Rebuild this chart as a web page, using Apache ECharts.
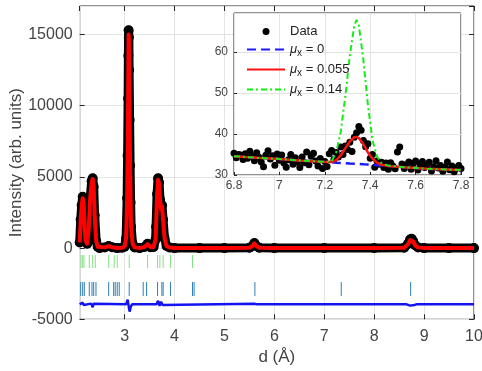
<!DOCTYPE html>
<html><head><meta charset="utf-8">
<script src="https://cdn.jsdelivr.net/npm/echarts@6/dist/echarts.min.js"></script>
<style>html,body{margin:0;padding:0;background:#fff}#c{width:482px;height:371px}</style>
</head><body><div id="c"></div>
<script>
// ---- main pattern ----
const mainD    = [2.10,2.12,2.14,2.16,2.18,2.20,2.22,2.25,2.28,2.31,2.34,2.36,2.38,2.40,2.43,2.46,2.50,2.60,2.68,2.75,2.85,2.95,3.00,3.03,3.05,3.06,3.07,3.075,3.08,3.085,3.09,3.10,3.11,3.12,3.13,3.16,3.20,3.30,3.40,3.46,3.52,3.58,3.62,3.63,3.65,3.67,3.69,3.71,3.73,3.75,3.77,3.80,3.84,3.90,4.00,4.50,5.00,5.50,5.56,5.60,5.64,5.70,6.00,7.00,8.00,8.60,8.68,8.72,8.75,8.78,8.82,8.88,9.00,9.50,10.00];
const mainObs  = [400,2000,3000,3600,3200,1400,500,300,1300,3500,4700,4900,4300,2300,500,100,0,50,150,60,0,30,100,700,3500,6500,10500,13500,15300,14800,12500,9000,5800,3200,1500,300,50,0,80,300,60,80,600,1500,3800,4900,4600,3400,2700,3000,2000,700,150,40,0,0,0,20,150,350,150,20,0,0,0,20,300,600,650,500,200,50,0,0,0];
const mainCalc = [400,2000,3000,3500,3150,1400,500,300,1300,3500,4650,4850,4250,2300,500,100,0,50,140,60,0,30,100,700,3400,6300,10300,13300,15000,14600,12300,8900,5700,3100,1500,300,50,0,80,280,60,80,600,1500,3700,4800,4550,3400,2700,2950,2000,700,150,40,0,0,0,20,140,330,140,20,0,0,0,20,280,560,620,480,200,50,0,0,0];
const resD = [2.10,2.14,2.16,2.18,2.22,2.33,2.36,2.38,2.42,3.03,3.06,3.08,3.10,3.12,3.15,3.64,3.67,3.70,3.73,3.76,3.80,5.60,5.65,8.65,8.72,8.80,8.85,10.00];
const resV = [-3950,-3900,-3830,-4000,-3950,-3900,-4150,-3900,-3950,-3950,-3620,-3530,-4460,-4150,-3950,-3950,-3700,-4060,-3760,-4000,-3950,-3910,-3950,-3950,-4040,-4000,-3950,-3950];
const phase1Ticks = [2.126,2.16,2.186,2.292,2.36,2.412,2.68,2.792,2.852,3.092,3.46,3.66,3.706,3.772,3.92,4.36];
const phase2Ticks = [2.12,2.16,2.192,2.292,2.346,2.38,2.426,2.68,2.78,2.812,2.852,2.892,3.092,3.372,3.44,3.66,3.746,3.772,3.92,4.36,4.392,5.61,7.34,8.73];
// ---- inset ----
const insetD = [6.80,6.81,6.82,6.83,6.84,6.85,6.86,6.87,6.88,6.89,6.90,6.91,6.92,6.93,6.94,6.95,6.96,6.97,6.98,6.99,7.00,7.01,7.02,7.03,7.04,7.05,7.06,7.07,7.08,7.09,7.10,7.11,7.12,7.13,7.14,7.15,7.16,7.17,7.18,7.19,7.20,7.21,7.22,7.23,7.24,7.25,7.26,7.27,7.28,7.29,7.30,7.31,7.32,7.33,7.34,7.35,7.36,7.37,7.38,7.39,7.40,7.41,7.42,7.43,7.44,7.45,7.46,7.47,7.48,7.49,7.50,7.51,7.52,7.53,7.54,7.55,7.56,7.57,7.58,7.59,7.60,7.61,7.62,7.63,7.64,7.65,7.66,7.67,7.68,7.69,7.70,7.71,7.72,7.73,7.74,7.75,7.76,7.77,7.78,7.79,7.80];
const insetObs = [35.3,34.2,35.0,34.9,33.8,35.2,34.1,35.8,34.6,33.5,35.4,34.3,33.2,32.0,34.8,35.9,33.9,34.7,32.4,35.1,33.6,34.9,32.9,31.9,33.7,35.0,32.6,34.2,33.1,31.8,34.4,33.0,35.6,32.5,34.6,35.3,33.4,32.2,34.0,31.6,33.3,32.1,35.2,36.0,33.8,35.5,34.4,36.8,35.0,37.1,36.2,38.0,35.7,39.2,40.3,41.8,40.9,38.4,36.9,37.6,34.1,35.0,31.9,33.4,32.6,33.1,31.8,32.9,31.4,33.0,32.2,31.5,35.6,36.8,32.7,31.6,32.5,33.2,31.4,32.8,33.4,31.2,32.6,33.3,31.8,32.4,33.1,31.0,32.0,33.5,31.7,32.3,30.9,31.9,33.2,31.3,32.2,30.8,31.7,32.3,31.6];
const fitD     = [6.80,6.90,7.00,7.10,7.20,7.23,7.25,7.27,7.29,7.31,7.33,7.34,7.35,7.37,7.39,7.41,7.43,7.45,7.48,7.55,7.65,7.80];
const fitMu0   = [34.6,34.2,33.9,33.5,33.2,33.1,33.0,32.95,32.9,32.8,32.75,32.7,32.7,32.6,32.55,32.5,32.4,32.3,32.2,31.9,31.5,31.2];
const fitMu055 = [34.6,34.2,33.9,33.5,33.2,33.2,33.6,34.8,36.5,38.2,39.2,39.3,39.0,37.5,35.5,34.0,33.0,32.5,32.2,31.9,31.5,31.2];
const fitMu14  = [34.6,34.2,33.9,33.5,33.2,33.4,35.5,40.5,49.0,59.0,66.5,67.8,66.5,58.0,47.0,38.5,34.5,32.9,32.3,31.9,31.5,31.2];

const zip = (a,b) => a.map((v,i)=>[v,b[i]]);
const FONT = '"Liberation Sans", Arial, sans-serif';
const TXT = '#444';
const AX = '#262626';
const GRIDC = '#e3e3e3';
const plain = v => String(+v.toFixed(4));

const chart = echarts.init(document.getElementById('c'), null, {renderer:'canvas'});
const legendNames = {'Data':'Data','mu0':'{i|μ}{s|x}{t| = 0}','mu055':'{i|μ}{s|x}{t| = 0.055}','mu14':'{i|μ}{s|x}{t| = 0.14}'};
chart.setOption({
  animation:false,
  textStyle:{fontFamily:FONT},
  grid:[
    {left:79.7, right:8, top:6, bottom:51.7, show:true, borderColor:AX, borderWidth:1, backgroundColor:'#fff', z:0, outerBoundsMode:'none'},
    {left:234, top:13, width:227, height:162, show:true, borderColor:AX, borderWidth:1, backgroundColor:'#fff', z:5, outerBoundsMode:'none'}
  ],
  xAxis:[
    {gridIndex:0, type:'value', min:2.1, max:10, splitNumber:8, name:'d (Å)', nameLocation:'middle', nameGap:29,
     nameTextStyle:{fontSize:17, color:TXT, fontFamily:FONT},
     axisLine:{show:false, onZero:false}, axisTick:{inside:true, length:5, lineStyle:{color:AX}},
     axisLabel:{fontSize:16, color:TXT, margin:9, showMinLabel:false, fontFamily:FONT, formatter:plain},
     splitLine:{show:true, lineStyle:{color:GRIDC, width:1}}},
    {gridIndex:1, type:'value', min:6.8, max:7.8, interval:0.2, z:6,
     axisLine:{show:false, onZero:false}, axisTick:{inside:true, length:3, lineStyle:{color:AX}},
     axisLabel:{fontSize:12, color:TXT, margin:5, fontFamily:FONT, formatter:plain},
     splitLine:{show:true, lineStyle:{color:GRIDC, width:1}}},
    {gridIndex:0, type:'value', position:'top', min:2.1, max:10, splitNumber:8,
     axisLine:{show:false, onZero:false}, axisTick:{inside:true, length:5, lineStyle:{color:AX}}, axisLabel:{show:false}, splitLine:{show:false}}
  ],
  yAxis:[
    {gridIndex:0, type:'value', min:-5000, max:17000, interval:5000, name:'Intensity (arb. units)', nameLocation:'middle', nameGap:55, nameMoveOverlap:false,
     nameTextStyle:{fontSize:17, color:TXT, fontFamily:FONT},
     axisLine:{show:false, onZero:false}, axisTick:{inside:true, length:5, lineStyle:{color:AX}},
     axisLabel:{fontSize:16, color:TXT, margin:7, showMaxLabel:false, fontFamily:FONT, formatter:plain},
     splitLine:{show:true, lineStyle:{color:GRIDC, width:1}}},
    {gridIndex:1, type:'value', min:30, max:69.5, interval:10, z:6,
     axisLine:{show:false, onZero:false}, axisTick:{inside:true, length:3, lineStyle:{color:AX}},
     axisLabel:{fontSize:12, color:TXT, margin:6, showMaxLabel:false, fontFamily:FONT, formatter:plain},
     splitLine:{show:true, lineStyle:{color:GRIDC, width:1}}},
    {gridIndex:0, type:'value', position:'right', min:-5000, max:17000, interval:5000,
     axisLine:{show:false, onZero:false}, axisTick:{inside:true, length:5, lineStyle:{color:AX}}, axisLabel:{show:false}, splitLine:{show:false}}
  ],
  legend:{
    data:[{name:'Data'},{name:'mu0', itemStyle:{opacity:0}},{name:'mu055', itemStyle:{opacity:0}},{name:'mu14', itemStyle:{opacity:0}}],
    orient:'vertical', left:246, top:25, z:20,
    itemWidth:38, itemHeight:7, itemGap:5, padding:0,
    formatter:n=>legendNames[n],
    textStyle:{fontSize:13, color:'#222', fontFamily:FONT,
      rich:{i:{fontSize:13, fontStyle:'italic', color:'#222', fontFamily:FONT},
            s:{fontSize:10, color:'#222', padding:[7,0,0,0], fontFamily:FONT},
            t:{fontSize:13, color:'#222', fontFamily:FONT}}}
  },
  series:[
    {type:'line', xAxisIndex:0, yAxisIndex:0, data:zip(mainD,mainObs), z:3,
     symbol:'circle', symbolSize:10, showSymbol:true, showAllSymbol:true,
     itemStyle:{color:'#000'}, lineStyle:{color:'#000', width:9, cap:'round', join:'round'}},
    {type:'line', xAxisIndex:0, yAxisIndex:0, data:zip(mainD,mainCalc), z:4, symbol:'none',
     lineStyle:{color:'#ff0000', width:4, join:'round'}},
    {type:'scatter', xAxisIndex:0, yAxisIndex:0, data:phase1Ticks.map(d=>[d,-950]), z:3,
     symbol:'rect', symbolSize:[1,13], itemStyle:{color:'#86e086', opacity:1}},
    {type:'scatter', xAxisIndex:0, yAxisIndex:0, data:phase2Ticks.map(d=>[d,-2880]), z:3,
     symbol:'rect', symbolSize:[1,14], itemStyle:{color:'#2f80b8', opacity:1}},
    {type:'line', xAxisIndex:0, yAxisIndex:0, data:zip(resD,resV), z:3, symbol:'none',
     lineStyle:{color:'#1414f0', width:2.5}},
    {name:'Data', type:'scatter', xAxisIndex:1, yAxisIndex:1, data:zip(insetD,insetObs), z:7,
     symbol:'circle', symbolSize:7, itemStyle:{color:'#000', opacity:1}},
    {name:'mu0', type:'line', xAxisIndex:1, yAxisIndex:1, data:zip(fitD,fitMu0), z:8, symbol:'none',
     itemStyle:{color:'#0000ff'}, lineStyle:{color:'#1a1aff', width:2.5, type:[9,5]}},
    {name:'mu055', type:'line', xAxisIndex:1, yAxisIndex:1, data:zip(fitD,fitMu055), z:9, symbol:'none',
     itemStyle:{color:'#ff0000'}, lineStyle:{color:'#ff1010', width:2.5}},
    {name:'mu14', type:'line', xAxisIndex:1, yAxisIndex:1, data:zip(fitD,fitMu14), z:10, symbol:'none',
     itemStyle:{color:'#00ee00'}, lineStyle:{color:'#11ee11', width:2, type:[6,3,2,3]}}
  ]
});
</script></body></html>
